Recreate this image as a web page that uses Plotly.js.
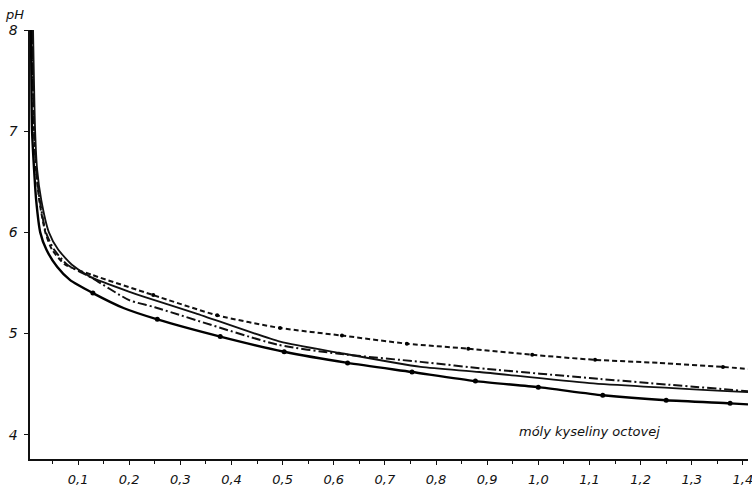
<!DOCTYPE html>
<html>
<head>
<meta charset="utf-8">
<script src="https://cdn.plot.ly/plotly-3.0.1.min.js"></script>
<style>html,body{margin:0;padding:0;background:#fff;}#chart{width:752px;height:496px;}</style>
</head>
<body>
<div id="chart"></div>
<script>
// Lower thick solid curve with measured points
const lowerX = [0.008, 0.010, 0.014, 0.018, 0.026, 0.038, 0.059, 0.084, 0.129, 0.19, 0.255, 0.378, 0.503, 0.627, 0.753, 0.877, 1.0, 1.126, 1.25, 1.375, 1.41];
const lowerY = [8.0, 7.01, 6.62, 6.32, 6.00, 5.83, 5.66, 5.53, 5.40, 5.25, 5.14, 4.97, 4.82, 4.71, 4.62, 4.53, 4.47, 4.39, 4.34, 4.31, 4.30];
const lowerPtsX = [0.129, 0.255, 0.378, 0.503, 0.627, 0.753, 0.877, 1.0, 1.126, 1.25, 1.375];
const lowerPtsY = [5.40, 5.14, 4.97, 4.82, 4.71, 4.62, 4.53, 4.47, 4.39, 4.34, 4.31];

// Thin solid curve
const thinX = [0.012, 0.016, 0.020, 0.028, 0.043, 0.061, 0.088, 0.124, 0.202, 0.231, 0.33, 0.495, 0.61, 0.77, 0.885, 1.1, 1.41];
const thinY = [8.0, 7.01, 6.62, 6.32, 6.00, 5.83, 5.68, 5.56, 5.41, 5.36, 5.20, 4.92, 4.81, 4.67, 4.62, 4.51, 4.42];

// Dash-dot curve
const dashDotX = [0.010, 0.014, 0.018, 0.025, 0.037, 0.053, 0.079, 0.127, 0.2, 0.25, 0.49, 0.61, 0.77, 0.9, 1.1, 1.41];
const dashDotY = [8.0, 7.01, 6.62, 6.32, 6.00, 5.83, 5.68, 5.55, 5.33, 5.26, 4.89, 4.80, 4.72, 4.65, 4.56, 4.43];

// Dashed (upper) curve with measured points
const dashedX = [0.010, 0.014, 0.018, 0.024, 0.036, 0.049, 0.075, 0.127, 0.247, 0.372, 0.495, 0.616, 0.743, 0.863, 0.988, 1.111, 1.236, 1.361, 1.41];
const dashedY = [8.0, 7.01, 6.62, 6.32, 6.00, 5.83, 5.68, 5.58, 5.38, 5.18, 5.055, 4.98, 4.90, 4.85, 4.79, 4.74, 4.71, 4.67, 4.65];
const dashedPtsX = [0.247, 0.372, 0.495, 0.616, 0.743, 0.863, 0.988, 1.111, 1.361];
const dashedPtsY = [5.38, 5.18, 5.055, 4.98, 4.90, 4.85, 4.79, 4.74, 4.67];

// Axis ticks
const xTickVals = [0.1, 0.2, 0.3, 0.4, 0.5, 0.6, 0.7, 0.8, 0.9, 1.0, 1.1, 1.2, 1.3, 1.4];
const xTickText = ["0,1", "0,2", "0,3", "0,4", "0,5", "0,6", "0,7", "0,8", "0,9", "1,0", "1,1", "1,2", "1,3", "1,4"];
const yTickVals = [4, 5, 6, 7, 8];
const yTickText = ["4", "5", "6", "7", "8"];

const FONT = "DejaVu Sans, sans-serif";

const traces = [
  {x: dashedX, y: dashedY, mode: 'lines', line: {color: '#111', width: 2, dash: '5px,3px', shape: 'spline', smoothing: 0.6}, hoverinfo: 'skip'},
  {x: dashDotX, y: dashDotY, mode: 'lines', line: {color: '#111', width: 2, dash: '9px,3px,2px,3px', shape: 'spline', smoothing: 0.6}, hoverinfo: 'skip'},
  {x: thinX, y: thinY, mode: 'lines', line: {color: '#111', width: 1.8, shape: 'spline', smoothing: 0.6}, hoverinfo: 'skip'},
  {x: lowerX, y: lowerY, mode: 'lines', line: {color: '#000', width: 2.4, shape: 'spline', smoothing: 0.6}, hoverinfo: 'skip'},
  {x: lowerPtsX, y: lowerPtsY, mode: 'markers', marker: {color: '#000', size: 5, symbol: 'circle'}, hoverinfo: 'skip'},
  {x: dashedPtsX, y: dashedPtsY, mode: 'markers', marker: {color: '#000', size: 4, symbol: 'circle'}, hoverinfo: 'skip'}
];

const layout = {
  width: 752, height: 496,
  margin: {l: 30, r: 4, t: 30, b: 37},
  paper_bgcolor: '#fff', plot_bgcolor: '#fff',
  showlegend: false,
  font: {family: FONT, color: '#111', size: 13},
  xaxis: {
    range: [0.006, 1.41],
    showgrid: false, zeroline: false,
    showline: true, linecolor: '#111', linewidth: 1.6,
    tickmode: 'array', tickvals: xTickVals, ticktext: xTickText,
    ticks: 'outside', ticklen: 4, tickwidth: 1, tickcolor: '#111',
    ticklabelstandoff: 4, ticklabeloverflow: 'allow',
    minor: {dtick: 0.05, tick0: 0, ticks: 'outside', ticklen: 3, tickcolor: '#111', tickwidth: 1, showgrid: false},
    tickfont: {family: FONT, size: 13, color: '#111', style: 'italic'}
  },
  yaxis: {
    range: [3.76, 8.0],
    showgrid: false, zeroline: false,
    showline: true, linecolor: '#111', linewidth: 1.6,
    tickmode: 'array', tickvals: yTickVals, ticktext: yTickText,
    ticks: 'outside', ticklen: 4, tickwidth: 1, tickcolor: '#111',
    ticklabelstandoff: 4,
    tickfont: {family: FONT, size: 14, color: '#111', style: 'italic'}
  },
  annotations: [
    {xref: 'paper', yref: 'paper', x: -0.021, y: 1.035, text: 'pH', showarrow: false,
     font: {family: FONT, size: 13, color: '#111', style: 'italic'}, xanchor: 'center', yanchor: 'middle'},
    {xref: 'x', yref: 'y', x: 1.10, y: 4.03, text: 'móly kyseliny octovej', showarrow: false,
     font: {family: FONT, size: 13, color: '#111', style: 'italic'}, xanchor: 'center', yanchor: 'middle'}
  ]
};

Plotly.newPlot('chart', traces, layout, {displayModeBar: false, staticPlot: true});
</script>
</body>
</html>
